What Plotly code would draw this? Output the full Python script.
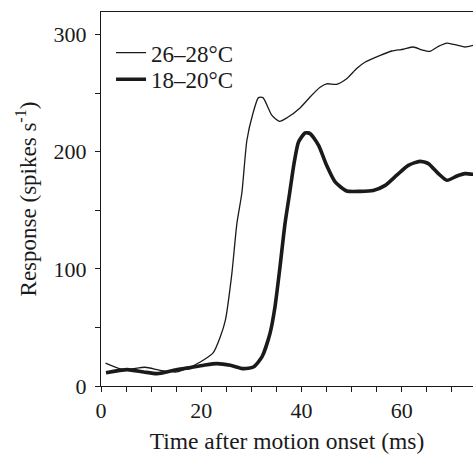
import plotly.graph_objects as go

# 26–28°C (thin line)
time_warm = [0.9, 4.5, 8.8, 11.8, 15.1, 17.1, 19.8, 22.4, 23.8, 24.8, 26.1, 27.1, 28.1, 29.1,
             30.3, 31.4, 32.3, 34.1, 35.6, 37.1, 39.7, 41.7, 43.7, 45.0, 47.0, 49.0, 51.0,
             52.7, 55.7, 58.0, 60.3, 62.3, 64.0, 65.6, 67.3, 69.0, 71.0, 72.6, 74.3]
resp_warm = [19.6, 14, 16, 13.4, 12, 14.8, 20.5, 28.5, 42, 56, 96, 138.6, 165, 209.8,
             232.6, 246.2, 246.2, 231, 226, 229, 237.4, 246.7, 255, 258, 257.6, 262.4, 271,
             276.6, 282.3, 286, 287.5, 289.4, 287, 285.7, 290, 292.8, 291, 289.4, 290.9]

# 18–20°C (thick line)
time_cold = [1.0, 5.2, 8.5, 11.2, 14.5, 17.8, 20.5, 23.1, 25.8, 28.4, 30.4, 32.1, 33.7, 34.7,
             35.7, 36.7, 37.6, 38.5, 39.4, 40.7, 41.7, 43.4, 45.0, 46.7, 49.0, 51.7, 54.3,
             56.7, 59.0, 61.3, 63.6, 65.3, 67.3, 69.0, 71.0, 72.6, 74.3]
resp_cold = [11.4, 14, 12, 10.6, 13.4, 15.7, 17.7, 19.1, 17.7, 14.8, 16.2, 24.8, 44.7, 67.5,
             101.6, 138.6, 164, 189.9, 208.3, 216, 215.5, 205.5, 188.4, 174.2, 166.5, 166.2, 167,
             171.3, 180, 188.4, 191.8, 189.9, 181.3, 175.6, 179.3, 181.3, 180.7]

series_names = ["26–28°C", "18–20°C"]
x_tickvals = [0, 20, 40, 60]
y_tickvals = [0, 100, 200, 300]

FONT = "Liberation Serif, Times New Roman, Times, serif"
INK = "#1a1a1a"

fig = go.Figure()
fig.add_trace(go.Scatter(x=time_warm, y=resp_warm, mode="lines", name=series_names[0],
                         legend="legend",
                         line=dict(color=INK, width=1.3, shape="spline", smoothing=0.6)))
fig.add_trace(go.Scatter(x=time_cold, y=resp_cold, mode="lines", name=series_names[1],
                         legend="legend2",
                         line=dict(color=INK, width=3.6, shape="spline", smoothing=0.6)))

legend_common = dict(xanchor="left", yanchor="middle", bgcolor="rgba(0,0,0,0)",
                     font=dict(size=23, family=FONT, color=INK), itemwidth=30)

fig.update_layout(
    width=473, height=454,
    margin=dict(l=101, r=0, t=12, b=68, autoexpand=False),
    paper_bgcolor="white", plot_bgcolor="white",
    font=dict(family=FONT, size=22, color=INK),
    showlegend=True,
    legend=dict(x=0.027, y=0.891, **legend_common),
    legend2=dict(x=0.027, y=0.820, **legend_common),
)
fig.update_xaxes(
    range=[0, 74.2], showgrid=False, zeroline=False, automargin=False,
    showline=True, linecolor=INK, linewidth=1, mirror=True,
    ticks="outside", ticklen=5, tickcolor=INK, tickwidth=1,
    tickvals=x_tickvals, ticktext=[str(v) for v in x_tickvals],
    minor=dict(dtick=5, tick0=0, ticks="outside", ticklen=5, tickcolor=INK, tickwidth=1),
    tickfont=dict(size=22, family=FONT, color=INK),
    title=dict(text="Time after motion onset (ms)", font=dict(size=23.5, family=FONT, color=INK), standoff=19),
)
fig.update_yaxes(
    range=[0, 319.3], showgrid=False, zeroline=False, automargin=False,
    showline=True, linecolor=INK, linewidth=1,
    ticks="outside", ticklen=5, tickcolor=INK, tickwidth=1,
    tickvals=y_tickvals, ticktext=[str(v) for v in y_tickvals],
    minor=dict(dtick=50, tick0=0, ticks="outside", ticklen=5, tickcolor=INK, tickwidth=1),
    tickfont=dict(size=22, family=FONT, color=INK),
    ticklabelstandoff=4,
    title=dict(text="Response (spikes s<sup>-1</sup>)", font=dict(size=23, family=FONT, color=INK), standoff=10),
)

fig.write_html("out.html", config={"displayModeBar": False},
               post_script="document.body.style.margin='0';document.body.style.padding='0';")
